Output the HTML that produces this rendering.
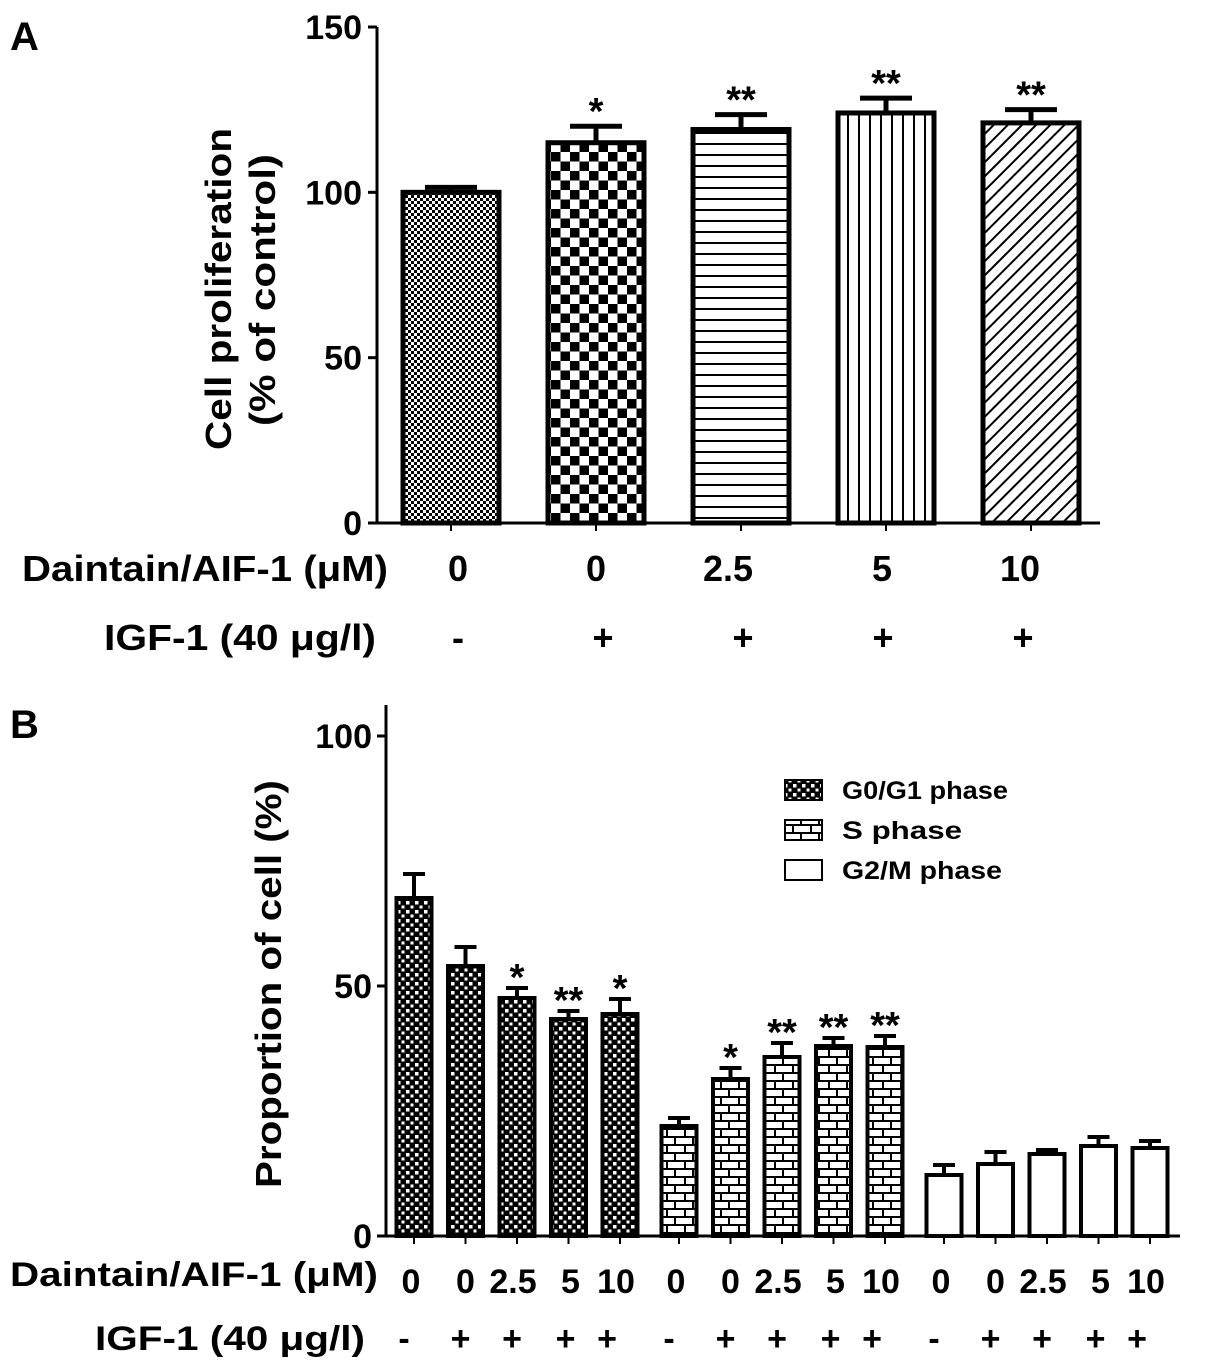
<!DOCTYPE html>
<html><head><meta charset="utf-8"><style>
html,body{margin:0;padding:0;background:#fff}
svg{display:block;font-family:"Liberation Sans",Arial,sans-serif;font-weight:bold}
</style></head><body>
<svg id="chart" width="1205" height="1372" viewBox="0 0 1205 1372" xmlns="http://www.w3.org/2000/svg">
<defs>
<pattern id="pFine" width="6" height="6" patternUnits="userSpaceOnUse"><rect width="6" height="6" fill="#fff"/><rect width="3" height="3" fill="#000"/><rect x="3" y="3" width="3" height="3" fill="#000"/></pattern>
<pattern id="pCheck" width="19" height="19" patternUnits="userSpaceOnUse"><rect width="19" height="19" fill="#fff"/><rect width="9.5" height="9.5" fill="#000"/><rect x="9.5" y="9.5" width="9.5" height="9.5" fill="#000"/></pattern>
<pattern id="pHor" width="10" height="11" patternUnits="userSpaceOnUse"><rect width="10" height="11" fill="#fff"/><rect y="0" width="10" height="2" fill="#000"/></pattern>
<pattern id="pVer" width="11" height="10" patternUnits="userSpaceOnUse"><rect width="11" height="10" fill="#fff"/><rect x="0" width="2" height="10" fill="#000"/></pattern>
<pattern id="pDiag" width="10" height="10" patternUnits="userSpaceOnUse" patternTransform="rotate(45)"><rect width="10" height="10" fill="#fff"/><rect width="2" height="10" fill="#000"/></pattern>
<pattern id="pG1" width="9" height="9" patternUnits="userSpaceOnUse"><rect width="9" height="9" fill="#000"/><rect x="1" y="1" width="3.5" height="3.5" fill="#fff"/><rect x="5.5" y="5.5" width="3" height="3" fill="#fff"/></pattern>
<pattern id="pS" width="18" height="16" patternUnits="userSpaceOnUse"><rect width="18" height="16" fill="#fff"/><rect y="0" width="18" height="2" fill="#000"/><rect y="8" width="18" height="2" fill="#000"/><rect x="8" y="0" width="2" height="8" fill="#000"/><rect x="0" y="8" width="2" height="8" fill="#000"/></pattern>
</defs>
<text x="10" y="50" font-size="40">A</text>
<text x="10" y="738" font-size="40">B</text>
<g id="gA"></g>
<g id="gB"></g>
</svg>
<script>
// Panel A data
const aDoses = ["0","0","2.5","5","10"];
const aIGF = ["-","+","+","+","+"];
const aValues = [100,115,119,124,121];
const aErrors = [1.5,5,4.5,4.5,4];
const aStars = ["","*","**","**","**"];
const aTicks = [0,50,100,150];
// Panel B data
const bDoses = ["0","0","2.5","5","10"];
const bIGF = ["-","+","+","+","+"];
const g01Values = [67.6,54,47.6,43.4,44.4];
const g01Errors = [4.8,3.8,2,1.6,3];
const sValues = [22,31.4,35.8,38,37.8];
const sErrors = [1.6,2.2,2.8,1.6,2.2];
const g2mValues = [12.2,14.4,16.4,18,17.6];
const g2mErrors = [2,2.4,0.8,1.8,1.4];
const g01Stars = ["","","*","**","*"];
const sStars = ["","*","**","**","**"];
const g2mStars = ["","","","",""];
const bTicks = [0,50,100];
const phaseNames = ["G0/G1 phase","S   phase","G2/M  phase"];

const NS="http://www.w3.org/2000/svg";
function mk(parent,tag,attrs,text){const e=document.createElementNS(NS,tag);for(const k in attrs)e.setAttribute(k,attrs[k]);if(text!==undefined)e.textContent=text;parent.appendChild(e);return e;}
const SG='spacingAndGlyphs';

// ---- Panel A ----
const gA=document.getElementById('gA');
const yA=v=>523-v*(496/150);
const xA=i=>451+i*145;
const axA=mk(gA,'path',{d:'M377 27 V523 H1100',stroke:'#000','stroke-width':3,fill:'none'});


aTicks.forEach(t=>{
  const l=mk(gA,'line',{x1:368,x2:377,y1:yA(t),y2:yA(t),stroke:'#000','stroke-width':3});
  
  
  const tx=mk(gA,'text',{x:362,y:yA(t)+12,'font-size':34,'text-anchor':'end'},String(t));
  
  
});
const ta=mk(gA,'text',{transform:'translate(231,289) rotate(-90)','font-size':36,'text-anchor':'middle',textLength:322,lengthAdjust:SG},'Cell proliferation');


const ta2=mk(gA,'text',{transform:'translate(275,290) rotate(-90)','font-size':36,'text-anchor':'middle',textLength:272,lengthAdjust:SG},'(% of control)');


const aFills=['pFine','pCheck','pHor','pVer','pDiag'];
aValues.forEach((v,i)=>{
  const cx=xA(i),w=96,top=yA(v);
  const b=mk(gA,'rect',{x:cx-w/2,y:top,width:w,height:523-top,fill:'url(#'+aFills[i]+')',stroke:'#000','stroke-width':5});
  
  
  const et=yA(v+aErrors[i]);
  const e=mk(gA,'path',{d:`M${cx} ${top} V${et} M${cx-26} ${et} H${cx+26}`,stroke:'#000','stroke-width':5,fill:'none'});
  
  
  const tk=mk(gA,'line',{x1:cx,x2:cx,y1:523,y2:531,stroke:'#000','stroke-width':2});
  
  
  if(aStars[i]){const s=mk(gA,'text',{x:cx,y:et-2,'font-size':38,'text-anchor':'middle'},aStars[i]);
    
    }
  const d=mk(gA,'text',{x:[458,596,728,882,1020][i],y:581,'font-size':36,'text-anchor':'middle'},aDoses[i]);
  
  
  const g=mk(gA,'text',{x:[458,603,743,883,1023][i],y:650,'font-size':36,'text-anchor':'middle'},aIGF[i]);
  
  
});
const ra=mk(gA,'text',{x:22,y:581,'font-size':36,textLength:366,lengthAdjust:SG},'Daintain/AIF-1 (μM)');


const rb=mk(gA,'text',{x:104,y:650,'font-size':36,textLength:272,lengthAdjust:SG},'IGF-1 (40 μg/l)');



// ---- Panel B ----
const gB=document.getElementById('gB');
const yB=v=>1236-v*5;
const axB=mk(gB,'path',{d:'M386 705 V1236 H1180',stroke:'#000','stroke-width':3,fill:'none'});


bTicks.forEach(t=>{
  const l=mk(gB,'line',{x1:377,x2:386,y1:yB(t),y2:yB(t),stroke:'#000','stroke-width':3});
  
  
  const tx=mk(gB,'text',{x:372,y:yB(t)+12,'font-size':34,'text-anchor':'end'},String(t));
  
  
});
const tb=mk(gB,'text',{transform:'translate(281,984) rotate(-90)','font-size':36,'text-anchor':'middle',textLength:408,lengthAdjust:SG},'Proportion of cell (%)');


const groups=[[g01Values,g01Errors,g01Stars,'pG1'],[sValues,sErrors,sStars,'pS'],[g2mValues,g2mErrors,g2mStars,'#fff']];
const xB=(g,i)=>414+g*265+i*51.5;
groups.forEach(([vals,errs,stars,fill],g)=>{
  vals.forEach((v,i)=>{
    const cx=xB(g,i),w=35,top=yB(v);
    const b=mk(gB,'rect',{x:cx-w/2,y:top,width:w,height:1236-top,fill:fill[0]=='#'?fill:'url(#'+fill+')',stroke:'#000','stroke-width':4});
    
    
    const et=yB(v+errs[i]);
    const e=mk(gB,'path',{d:`M${cx} ${top} V${et} M${cx-11} ${et} H${cx+11}`,stroke:'#000','stroke-width':4,fill:'none'});
    
    
    const tk=mk(gB,'line',{x1:cx,x2:cx,y1:1236,y2:1244,stroke:'#000','stroke-width':2});
    
    
    if(stars[i]){const s=mk(gB,'text',{x:cx,y:et+2,'font-size':38,'text-anchor':'middle'},stars[i]);
      
      }
    const d=mk(gB,'text',{x:cx+[-3,0,-4,2,-4][i],y:1293,'font-size':34,'text-anchor':'middle'},bDoses[i]);
    
    
    const p=mk(gB,'text',{x:cx+[-10,-5,-5,-3,-13][i],y:1350,'font-size':34,'text-anchor':'middle'},bIGF[i]);
    
    
  });
});
const rc=mk(gB,'text',{x:10,y:1286,'font-size':34,textLength:368,lengthAdjust:SG},'Daintain/AIF-1 (μM)');


const rd=mk(gB,'text',{x:95,y:1350,'font-size':34,textLength:270,lengthAdjust:SG},'IGF-1 (40 μg/l)');


const legLens=[166,120,160];
['pG1','pS','#fff'].forEach((f,k)=>{
  const y=780+k*40;
  const r=mk(gB,'rect',{x:785,y:y,width:37,height:20,fill:f[0]=='#'?f:'url(#'+f+')',stroke:'#000','stroke-width':2});
  
  
  const t=mk(gB,'text',{x:842,y:y+19,'font-size':25,'xml:space':'preserve',textLength:legLens[k],lengthAdjust:SG},phaseNames[k]);
  
  
});
</script>
</body></html>
